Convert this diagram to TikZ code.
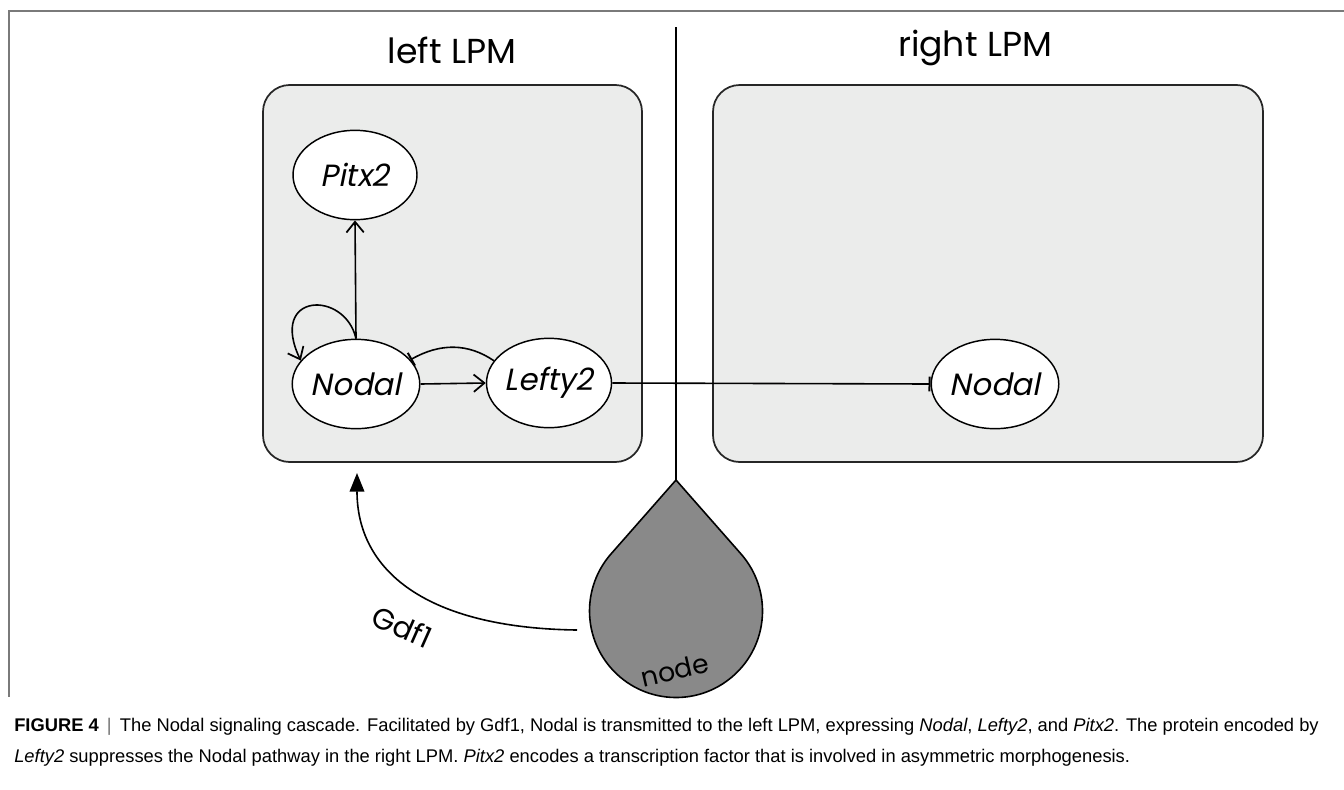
\documentclass[tikz,border=0pt]{standalone}
\usepackage{fontspec}
\setmainfont{Liberation Sans}
\newfontfamily\gothic{Poppins}
\newfontfamily\gothicit{Poppins}[FakeSlant=0.2]
\usetikzlibrary{arrows.meta,calc,shapes.geometric}
\definecolor{boxfill}{HTML}{EBECEB}
\definecolor{dropfill}{HTML}{898989}
\definecolor{framecol}{HTML}{7A7A7A}
\begin{document}
\begin{tikzpicture}[x=0.75pt,y=-0.75pt,
  lpm/.style={draw=black!85, line width=1.3pt, fill=boxfill, rounded corners=20pt},
  gene/.style={ellipse, draw=black, line width=1.1pt, fill=white, inner sep=0pt,
    minimum width=93pt, minimum height=67pt, font=\gothicit\fontsize{23}{26}\selectfont},
  side/.style={font=\gothic\fontsize{26}{30}\selectfont},
  edge/.style={line width=1.2pt},
  act/.style={edge, -{Straight Barb[length=8pt,width=13pt,line width=1.3pt]}},
  inh/.style={edge, -{Bar[width=11pt,line width=1.5pt]}},
  captext/.style={font=\fontsize{13.75}{16}\selectfont, anchor=base west, inner sep=0pt}
]
\useasboundingbox (0,0) rectangle (1344,789);
% frame
\draw[framecol, line width=1.1pt] (1344,11) -- (9,11) -- (9,697);
% LPM boxes
\draw[lpm] (263,85) rectangle (642,462);
\draw[lpm] (713,85) rectangle (1263,462);
\node[side] (leftlab) at (452,50) {left LPM};
\node[side] (rightlab) at (975,48) {right LPM};
% midline and node (drop)
\coordinate (top) at (676,27);
\coordinate (tip) at (676,480);
\coordinate (dropc) at (676,611);
\draw[line width=1.2pt] (top) -- (tip);
\draw[fill=dropfill, line width=1.2pt] (tip) -- ($(dropc)+(-41.1:86.5)$)
  arc[start angle=-41.1, end angle=221.1, radius=86.5] -- cycle;
\node[font=\gothic\fontsize{20}{24}\selectfont, rotate=13] (nodelab) at (675,670) {node};
% genes
\node[gene] (pitx) at (355,175) {Pitx2};
\node[gene] (nodalL) at (356,384) {Nodal};
\node[gene] (lefty) at (549,383) {Lefty2};
\node[gene] (nodalR) at (995,384) {Nodal};
% connectors
\draw[act] (nodalL.north) -- (pitx.south);
\draw[act] (nodalL.north) .. controls (345,290) and (268,292) .. (nodalL.157);
\draw[act] (nodalL.east) -- (lefty.west);
\draw[inh] (lefty.158) .. controls (468,343) and (440,343) .. (nodalL.24);
\draw[inh] (lefty.east) -- (nodalR.west);
% Gdf1
\coordinate (gdfstart) at (577,630);
\coordinate (gdfend) at (357,473);
\draw[edge, -{Triangle[length=14pt,width=11pt]}] (gdfstart) .. controls (425,628) and (357,570) .. (gdfend);
\node[font=\gothic\fontsize{22}{26}\selectfont, rotate=-24] (gdflab) at (402,627) {Gdf1};
% caption
\node[captext] (cap1) at (14,731) {\textbf{FIGURE 4}\ \,\textcolor{black!55}{|}\,\ The Nodal signaling cascade. Facilitated by Gdf1, Nodal is transmitted to the left LPM, expressing \textit{Nodal}, \textit{Lefty2}, and \textit{Pitx2}. The protein encoded by};
\node[captext] (cap2) at (14,762) {\textit{Lefty2} suppresses the Nodal pathway in the right LPM. \textit{Pitx2} encodes a transcription factor that is involved in asymmetric morphogenesis.};
\end{tikzpicture}
\end{document}
